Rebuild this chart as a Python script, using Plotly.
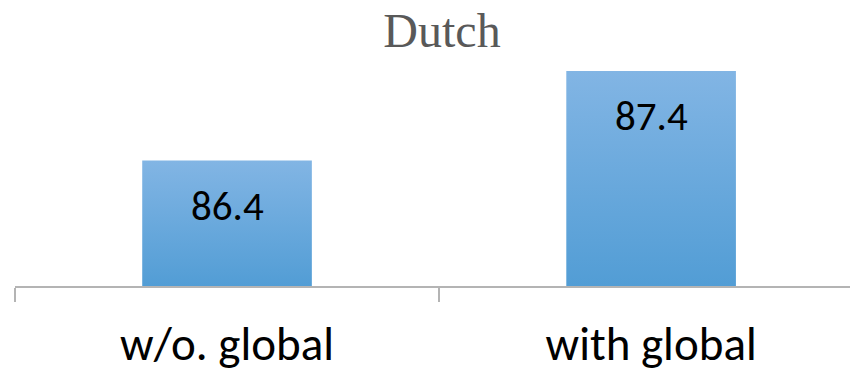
import plotly.graph_objects as go

# Accuracy (%) on Dutch with and without the global component
categories = ["w/o. global", "with global"]
scores = [86.4, 87.4]
axis_floor = 85.0

BAR_WIDTH = 0.4
LABEL_FONT = "Carlito, 'Open Sans', 'Noto Sans', sans-serif"

fig = go.Figure()

# Each bar is a filled rectangle so it can carry a vertical gradient
for i, (cat, val) in enumerate(zip(categories, scores)):
    x0, x1 = i - BAR_WIDTH / 2, i + BAR_WIDTH / 2
    fig.add_trace(go.Scatter(
        x=[x0, x1, x1, x0, x0],
        y=[axis_floor, axis_floor, val, val, axis_floor],
        mode="lines",
        line=dict(width=0),
        fill="toself",
        fillgradient=dict(
            type="vertical",
            colorscale=[[0, "#529dd5"], [1, "#82b5e4"]],
        ),
        hoverinfo="skip",
        showlegend=False,
    ))
    fig.add_annotation(
        x=i, y=val, text=f"{val:.1f}",
        showarrow=False, yshift=-45,
        font=dict(family=LABEL_FONT, size=41, color="#000000"),
    )

fig.update_layout(
    width=850, height=373,
    margin=dict(l=15, r=0, t=62, b=87),
    paper_bgcolor="white", plot_bgcolor="white",
    title=dict(
        text="Dutch",
        x=0.52, xanchor="center",
        y=1 - 30 / 373, yanchor="middle",
        font=dict(family="'Liberation Serif', 'Times New Roman', serif",
                  size=48, color="#595959"),
    ),
    showlegend=False,
)

fig.update_xaxes(
    range=[-0.5, 1.469],
    automargin=False,
    tickmode="array",
    tickvals=list(range(len(categories))),
    ticktext=categories,
    ticks="", ticklen=0,
    ticklabelstandoff=16,
    tickfont=dict(family=LABEL_FONT, size=47, color="#000000"),
    showline=True, linecolor="#b4b4b4", linewidth=2,
    showgrid=False, zeroline=False,
    minor=dict(
        tickmode="array",
        tickvals=[-0.5 + k for k in range(len(categories) + 1)],
        ticks="outside", ticklen=14, tickwidth=1.5, tickcolor="#b4b4b4",
        showgrid=False,
    ),
    fixedrange=True,
)
fig.update_yaxes(
    range=[axis_floor, 87.5],
    automargin=False,
    visible=False,
    showgrid=False, zeroline=False,
    fixedrange=True,
)

fig.write_html("out.html", config={"displayModeBar": False})
